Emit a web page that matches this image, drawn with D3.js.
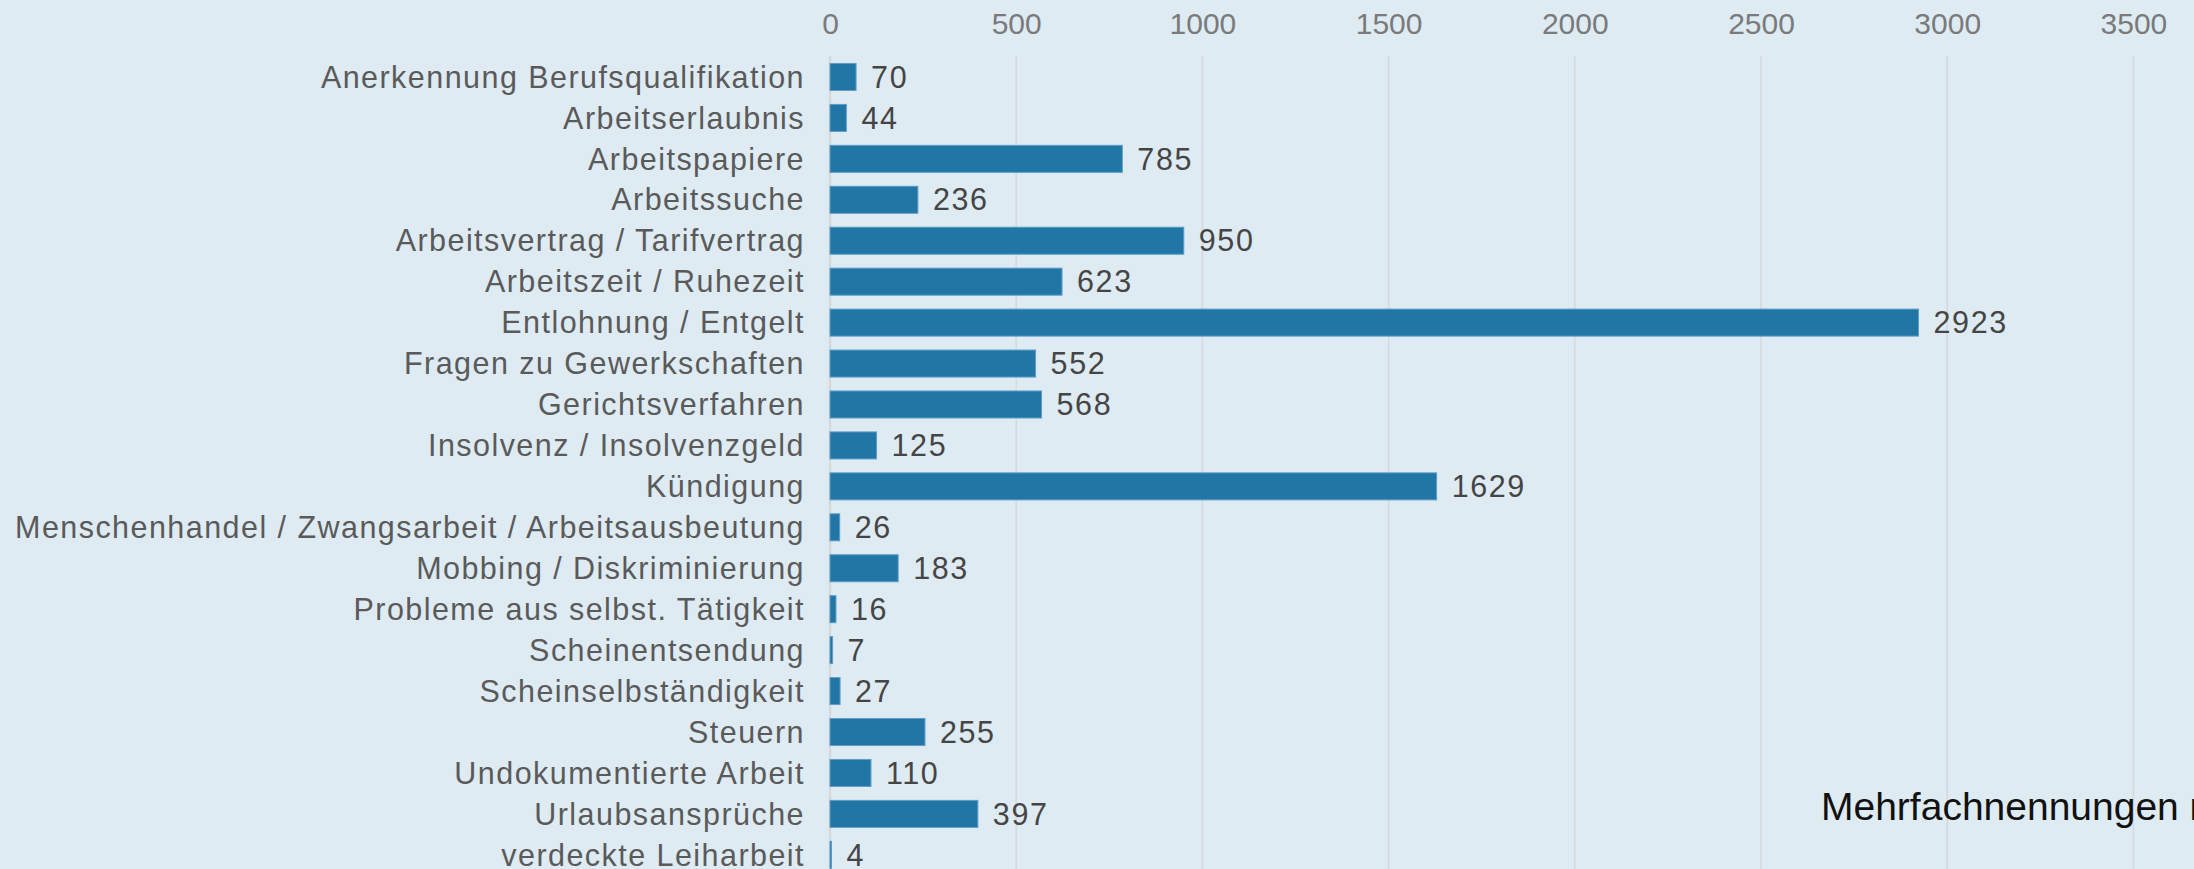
<!DOCTYPE html>
<html>
<head>
<meta charset="utf-8">
<script src="https://cdn.jsdelivr.net/npm/d3@7"></script>
<style>
	html, body { margin: 0; padding: 0; background: #deebf3; overflow: hidden; }
	svg { display: block; font-family: "Liberation Sans", Arial, Helvetica, sans-serif; }
</style>
</head>
<body>
<div id="canvas"></div>
<script>
// Themen der Beratung
var categories = [
	'Anerkennung Berufsqualifikation', 'Arbeitserlaubnis', 'Arbeitspapiere', 'Arbeitssuche',
	'Arbeitsvertrag / Tarifvertrag', 'Arbeitszeit / Ruhezeit', 'Entlohnung / Entgelt',
	'Fragen zu Gewerkschaften', 'Gerichtsverfahren', 'Insolvenz / Insolvenzgeld', 'Kündigung',
	'Menschenhandel / Zwangsarbeit / Arbeitsausbeutung', 'Mobbing / Diskriminierung',
	'Probleme aus selbst. Tätigkeit', 'Scheinentsendung', 'Scheinselbständigkeit', 'Steuern',
	'Undokumentierte Arbeit', 'Urlaubsansprüche', 'verdeckte Leiharbeit'
];
var values = [70, 44, 785, 236, 950, 623, 2923, 552, 568, 125, 1629, 26, 183, 16, 7, 27, 255, 110, 397, 4];
var tickValues = [0, 500, 1000, 1500, 2000, 2500, 3000, 3500];
var noteLines = ['Mehrfachnennungen möglich', 'N'];

document.addEventListener('DOMContentLoaded', function() {
	var width = 2194,
		height = 869,
		svg = d3.select('#canvas').append('svg')
			.attr('width', width)
			.attr('height', height);

	var x = d3.scaleLinear().domain([0, 3500]).range([830, 2133.4]),
		y = d3.scaleBand().domain(categories).range([56.5, 56.5 + categories.length * 40.94])
			.paddingInner(0.34).paddingOuter(0.17);

	// gridlines
	svg.append('g').selectAll('line')
		.data(tickValues)
		.enter().append('line')
		.attr('x1', function(d) { return x(d); })
		.attr('x2', function(d) { return x(d); })
		.attr('y1', 56)
		.attr('y2', height)
		.attr('stroke', '#d6d9dc')
		.attr('stroke-width', function(d) { return d === 0 ? 2.5 : 1.5; });

	// top axis labels
	var axis = svg.append('g')
		.attr('transform', 'translate(0,' + 34 + ')')
		.call(d3.axisTop(x).tickValues(tickValues).tickFormat(d3.format('d')).tickSize(0).tickPadding(0));
	axis.select('.domain').remove();
	axis.selectAll('text')
		.attr('font-size', 30)
		.attr('font-family', '"Liberation Sans", Arial, sans-serif')
		.attr('fill', '#7a7a7a')
		.attr('dy', 0);

	// category labels
	var yAxis = svg.append('g')
		.attr('transform', 'translate(805,0)')
		.call(d3.axisLeft(y).tickSize(0).tickPadding(0));
	yAxis.select('.domain').remove();
	yAxis.selectAll('text')
		.attr('font-size', 30.5)
		.attr('font-family', '"Liberation Sans", Arial, sans-serif')
		.attr('letter-spacing', 1.45)
		.attr('fill', '#5a5a5a')
		.attr('dy', '0.35em');

	// bars
	svg.append('g').selectAll('rect')
		.data(values)
		.enter().append('rect')
		.attr('x', x(0))
		.attr('y', function(d, i) { return y(categories[i]); })
		.attr('width', function(d) { return x(d) - x(0); })
		.attr('height', y.bandwidth())
		.attr('fill', '#2176a5')
		.attr('stroke', '#5f9dc9')
		.attr('stroke-width', 1);

	// value labels
	svg.append('g').selectAll('text')
		.data(values)
		.enter().append('text')
		.attr('x', function(d) { return x(d) + 15; })
		.attr('y', function(d, i) { return y(categories[i]) + y.bandwidth() / 2; })
		.attr('dy', '0.35em')
		.attr('font-size', 30.5)
		.attr('letter-spacing', 1.6)
		.attr('fill', '#454545')
		.text(function(d) { return d; });

	// note
	svg.append('text')
		.attr('x', 1821)
		.attr('y', 820)
		.attr('font-size', 39)
		.attr('fill', '#111')
		.text(noteLines[0]);
	svg.append('text')
		.attr('x', 2186)
		.attr('y', 892)
		.attr('font-size', 34)
		.attr('font-weight', 'bold')
		.attr('fill', '#111')
		.text(noteLines[1]);
});
</script>
</body>
</html>
